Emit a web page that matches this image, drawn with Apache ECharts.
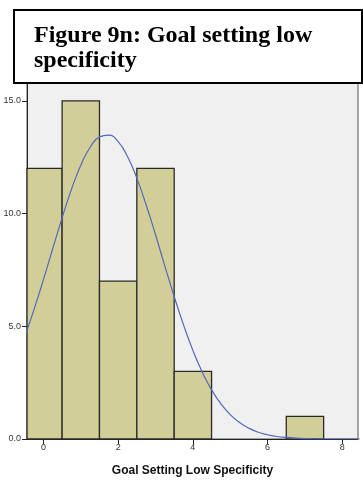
<!DOCTYPE html>
<html>
<head>
<meta charset="utf-8">
<script src="https://cdn.jsdelivr.net/npm/echarts@6/dist/echarts.min.js"></script>
<style>
html,body{margin:0;padding:0;background:#fff;}
#chart{width:363px;height:484px;}
</style>
</head>
<body>
<div id="chart"></div>
<script>
// Histogram bins (bin centers) and frequencies
const binCenters = [0, 1, 2, 3, 4, 7];
const frequencies = [12, 15, 7, 12, 3, 1];
const binWidth = 1;
// Normal curve points
const curveX = [-0.5,-0.25,0,0.25,0.5,0.75,1,1.25,1.5,1.75,2,2.25,2.5,2.75,3,3.25,3.5,3.75,4,4.25,4.5,4.75,5,5.25,5.5,5.75,6,6.25,6.5,6.75,7,7.25,7.5,8,8.5];
const curveY = [4.54,5.75,7.07,8.45,9.81,11.07,12.14,12.94,13.40,13.48,13.19,12.53,11.57,10.38,9.06,7.67,6.32,5.06,3.93,2.97,2.18,1.56,1.08,0.73,0.48,0.30,0.19,0.11,0.07,0.04,0.02,0.01,0.0,0.0,0.0];
const xTicks = [0, 2, 4, 6, 8];
const yTicks = [0, 5, 10, 15];
const titleText = 'Figure 9n: Goal setting low\nspecificity';
const xName = 'Goal Setting Low Specificity';

const chart = echarts.init(document.getElementById('chart'));
const barData = binCenters.map((c, i) => [c, frequencies[i]]);
const curveData = curveX.map((x, i) => [x, curveY[i]]);

chart.setOption({
  animation: false,
  grid: {left: 27, right: 5, bottom: 45, top: 67, show: true, backgroundColor: '#F0F0F0', borderColor: '#555', borderWidth: 1},
  xAxis: {
    type: 'value', min: -0.44, max: 8.42,
    name: xName, nameLocation: 'middle', nameGap: 26,
    nameTextStyle: {fontFamily: 'Liberation Sans', fontWeight: 'bold', fontSize: 12, color: '#111'},
    axisLine: {show: true, onZero: false, lineStyle: {color: '#222', width: 1}},
    axisTick: {show: true, length: 5, customValues: xTicks, lineStyle: {color: '#222'}},
    axisLabel: {customValues: xTicks, fontFamily: 'Liberation Sans', fontSize: 9, color: '#333', margin: 4},
    splitLine: {show: false}
  },
  yAxis: {
    type: 'value', min: 0, max: 16.5,
    axisLine: {show: true, onZero: false, lineStyle: {color: '#222', width: 1}},
    axisTick: {show: true, length: 5, customValues: yTicks, lineStyle: {color: '#222'}},
    axisLabel: {customValues: yTicks, fontFamily: 'Liberation Sans', fontSize: 9, color: '#333', margin: 6,
      formatter: v => v.toFixed(1)},
    splitLine: {show: false}
  },
  series: [
    {
      type: 'custom',
      data: barData,
      renderItem: function (params, api) {
        const c = api.value(0), f = api.value(1);
        const p0 = api.coord([c - binWidth / 2, f]);
        const p1 = api.coord([c + binWidth / 2, 0]);
        const rect = {x: p0[0], y: p0[1], width: p1[0] - p0[0], height: p1[1] - p0[1]};
        const clipped = echarts.graphic.clipRectByRect(rect, {
          x: params.coordSys.x, y: params.coordSys.y - 2,
          width: params.coordSys.width, height: params.coordSys.height + 2
        });
        if (!clipped) return;
        return {type: 'rect', shape: clipped,
          style: {fill: '#D2CE98', stroke: '#2a2a2a', lineWidth: 1.3}};
      },
      z: 2
    },
    {
      type: 'line', data: curveData, smooth: true, showSymbol: false, clip: true,
      lineStyle: {color: '#5468BC', width: 1.2}, z: 3
    }
  ],
  graphic: [
    {type: 'rect', left: 13, top: 9, z: 100,
      shape: {width: 348, height: 73},
      style: {fill: '#fff', stroke: '#000', lineWidth: 2}},
    {type: 'text', left: 34, top: 23, z: 101,
      style: {text: titleText, fontFamily: 'Liberation Serif', fontWeight: 'bold', fontSize: 24, lineHeight: 25, fill: '#000'}}
  ]
});
</script>
</body>
</html>
